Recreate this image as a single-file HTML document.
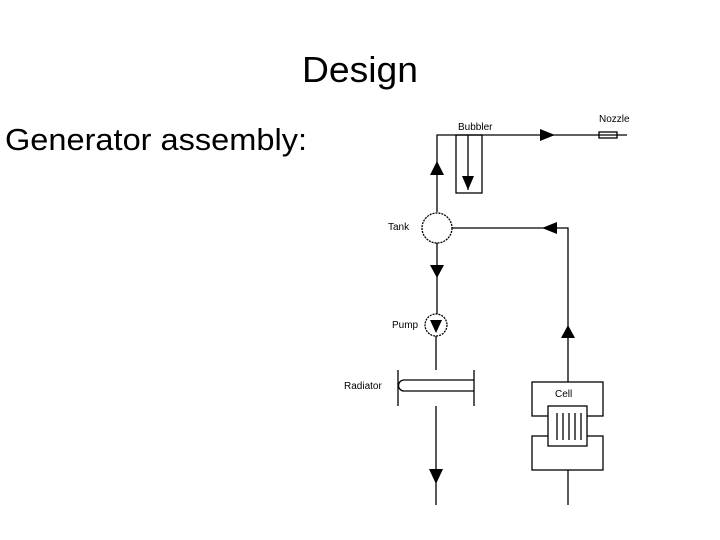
<!DOCTYPE html>
<html><head><style>
html,body{margin:0;padding:0;background:#fff;width:720px;height:540px;overflow:hidden}
</style></head><body>
<svg width="720" height="540" xmlns="http://www.w3.org/2000/svg" font-family="Liberation Sans, sans-serif">
<text x="302" y="82" font-size="36" textLength="116" lengthAdjust="spacingAndGlyphs">Design</text>
<text x="5" y="150" font-size="31" textLength="302" lengthAdjust="spacingAndGlyphs">Generator assembly:</text>
<g stroke="#000" stroke-width="1.3" fill="none">
<!-- top line -->
<polyline points="437,212 437,135 627,135"/>
<rect x="456" y="135" width="26" height="58"/>
<line x1="468" y1="135" x2="468" y2="190"/>
<rect x="599" y="132" width="18" height="6"/>
<circle cx="437" cy="228" r="15" stroke-dasharray="2,1"/>
<polyline points="452,228 568,228 568,382"/>
<line x1="437" y1="243" x2="437" y2="314"/>
<circle cx="436" cy="325" r="11" stroke-dasharray="2,1"/>
<line x1="436" y1="336" x2="436" y2="370"/>
<line x1="398" y1="370" x2="398" y2="406"/>
<line x1="474" y1="370" x2="474" y2="406"/>
<path d="M474,380 H404 A5.5,5.5 0 0 0 404,391 H474"/>
<line x1="436" y1="406" x2="436" y2="505"/>
<rect x="532" y="382" width="71" height="34"/>
<rect x="532" y="436" width="71" height="34"/>
<rect x="548" y="406" width="39" height="40" fill="#fff"/>
<line x1="557" y1="413" x2="557" y2="440"/>
<line x1="563" y1="413" x2="563" y2="440"/>
<line x1="569" y1="413" x2="569" y2="440"/>
<line x1="575" y1="413" x2="575" y2="440"/>
<line x1="581" y1="413" x2="581" y2="440"/>
<line x1="568" y1="470" x2="568" y2="505"/>
</g>
<g fill="#000">
<polygon points="437,161 430,175 444,175"/>
<polygon points="462,176 474,176 468,190"/>
<polygon points="540,129 540,141 555,135"/>
<polygon points="557,222 557,234 542,228"/>
<polygon points="430,265 444,265 437,278"/>
<polygon points="430,320 442,320 436,333"/>
<polygon points="568,325 561,338 575,338"/>
<polygon points="429,469 443,469 436,484"/>
</g>
<g font-size="10" fill="#000">
<text x="458" y="130">Bubbler</text>
<text x="599" y="122">Nozzle</text>
<text x="388" y="230">Tank</text>
<text x="392" y="328">Pump</text>
<text x="344" y="389">Radiator</text>
<text x="555" y="397">Cell</text>
</g>
</svg>
</body></html>
